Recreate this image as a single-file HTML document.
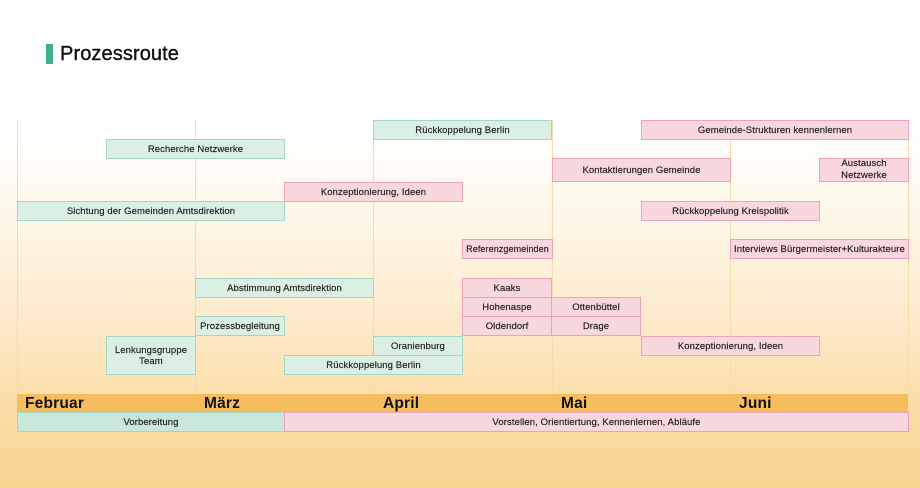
<!DOCTYPE html>
<html><head><meta charset="utf-8">
<style>
*{margin:0;padding:0;box-sizing:border-box}
html,body{width:920px;height:488px;overflow:hidden}
body{position:relative;font-family:"Liberation Sans","DejaVu Sans",sans-serif;
background:linear-gradient(to bottom,#ffffff 0%,#ffffff 28%,#fef6e6 46%,#fdeacb 66%,#fbdca4 84%,#f9d593 100%);}
.vl{position:absolute;top:120px;height:274px;width:1px;background:#f6dca8}
.b{position:absolute;display:flex;align-items:center;justify-content:center;text-align:center;font-size:9.5px;color:#1a1a1a;line-height:11px;letter-spacing:0.1px;-webkit-text-stroke:0.15px #1a1a1a}
.g{background:#dcefe5;border:1px solid #a3d6c3}
.p{background:#f9d7de;border:1px solid #eaa3b8}
.m{position:absolute;top:394px;font-size:15.5px;font-weight:bold;color:#111;line-height:19px;letter-spacing:0.2px}
</style></head><body>
<div style="position:absolute;left:46px;top:44px;width:7px;height:20px;background:#3fb08e"></div>
<div style="position:absolute;left:60px;top:42px;font-size:20px;color:#111;line-height:24px;letter-spacing:0.1px;-webkit-text-stroke:0.4px #111">Prozessroute</div>

<div class="vl" style="left:17px"></div>
<div class="vl" style="left:195px"></div>
<div class="vl" style="left:373px"></div>
<div class="vl" style="left:552px"></div>
<div class="vl" style="left:730px"></div>
<div class="vl" style="left:908px"></div>

<div class="b g" style="left:373px;top:120px;width:179px;height:20px">Rückkoppelung Berlin</div>
<div class="b p" style="left:641px;top:120px;width:268px;height:20px">Gemeinde-Strukturen kennenlernen</div>
<div class="b g" style="left:106px;top:139px;width:179px;height:20px">Recherche Netzwerke</div>
<div class="b p" style="left:552px;top:158px;width:179px;height:24px">Kontaktierungen Gemeinde</div>
<div class="b p" style="left:819px;top:158px;width:90px;height:24px;line-height:12px">Austausch<br>Netzwerke</div>
<div class="b p" style="left:284px;top:182px;width:179px;height:20px">Konzeptionierung, Ideen</div>
<div class="b g" style="left:17px;top:201px;width:268px;height:20px">Sichtung der Gemeinden Amtsdirektion</div>
<div class="b p" style="left:641px;top:201px;width:179px;height:20px">Rückkoppelung Kreispolitik</div>
<div class="b p" style="left:462px;top:239px;width:91px;height:20px;font-size:9px">Referenzgemeinden</div>
<div class="b p" style="left:730px;top:239px;width:179px;height:20px">Interviews Bürgermeister+Kulturakteure</div>
<div class="b g" style="left:195px;top:278px;width:179px;height:20px">Abstimmung Amtsdirektion</div>
<div class="b p" style="left:462px;top:278px;width:90px;height:20px">Kaaks</div>
<div class="b p" style="left:462px;top:297px;width:90px;height:20px">Hohenaspe</div>
<div class="b p" style="left:551px;top:297px;width:90px;height:20px">Ottenbüttel</div>
<div class="b g" style="left:195px;top:316px;width:90px;height:20px">Prozessbegleitung</div>
<div class="b p" style="left:462px;top:316px;width:90px;height:20px">Oldendorf</div>
<div class="b p" style="left:551px;top:316px;width:90px;height:20px">Drage</div>
<div class="b g" style="left:106px;top:336px;width:90px;height:39px">Lenkungsgruppe<br>Team</div>
<div class="b g" style="left:373px;top:336px;width:90px;height:20px">Oranienburg</div>
<div class="b p" style="left:641px;top:336px;width:179px;height:20px">Konzeptionierung, Ideen</div>
<div class="b g" style="left:284px;top:355px;width:179px;height:20px">Rückkoppelung Berlin</div>

<div style="position:absolute;left:17px;top:394px;width:891px;height:19px;background:#f6bd5e"></div>
<div class="m" style="left:25px">Februar</div>
<div class="m" style="left:204px">März</div>
<div class="m" style="left:383px">April</div>
<div class="m" style="left:561px">Mai</div>
<div class="m" style="left:739px">Juni</div>

<div class="b g" style="left:17px;top:412px;width:268px;height:20px;background:#c8e6da">Vorbereitung</div>
<div class="b p" style="left:284px;top:412px;width:625px;height:20px">Vorstellen, Orientiertung, Kennenlernen, Abläufe</div>
</body></html>
